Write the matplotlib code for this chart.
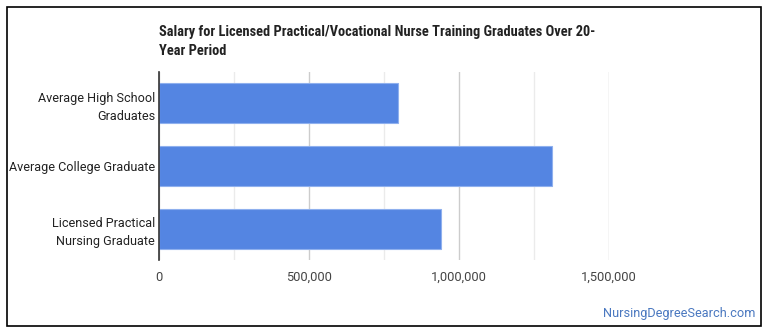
import matplotlib
matplotlib.use("Agg")
import matplotlib.pyplot as plt
from matplotlib.ticker import FuncFormatter, MultipleLocator
from matplotlib.patches import Rectangle

categories = ["Average High School\nGraduates", "Average College Graduate", "Licensed Practical\nNursing Graduate"]
values = [796000, 1312000, 941000]
xticks = [0, 500000, 1000000, 1500000]
title = "Salary for Licensed Practical/Vocational Nurse Training Graduates Over 20-\nYear Period"
watermark = "NursingDegreeSearch.com"

plt.rcParams['font.family'] = ['Roboto', 'DejaVu Sans']

W, H = 770, 335
fig = plt.figure(figsize=(W/100, H/100), dpi=100)
fig.patch.set_facecolor('white')

# outer frame
fig.add_artist(Rectangle((7/W, 1 - 326/H), (761-7)/W, (326-7)/H, transform=fig.transFigure,
                         fill=False, edgecolor='black', linewidth=1.2))

left, right = 159.3, 608.5
top, bottom = 72, 260
ax = fig.add_axes([left/W, 1 - bottom/H, (right-left)/W, (bottom-top)/H])

y = list(range(len(categories)))
ax.barh(y, values, height=0.64, color='#5485E2', edgecolor='#8fb0ee', linewidth=0.8, zorder=3)
ax.set_ylim(2.5, -0.5)
ax.set_xlim(0, 1500000)

ax.xaxis.set_major_locator(MultipleLocator(500000))
ax.xaxis.set_minor_locator(MultipleLocator(250000))
ax.set_xticks(xticks)
ax.xaxis.set_major_formatter(FuncFormatter(lambda v, p: f"{int(v):,}"))
ax.grid(axis='x', which='major', color='#cccccc', linewidth=1, zorder=0)
ax.grid(axis='x', which='minor', color='#ebebeb', linewidth=1, zorder=0)
ax.set_yticks(y)
ax.set_yticklabels(categories, fontsize=9.1, color='#222222', linespacing=1.5)
ax.tick_params(axis='both', which='both', length=0)
ax.tick_params(axis='y', pad=3)
ax.tick_params(axis='x', pad=8, labelsize=9.3, labelcolor='#444444')
for s in ['top', 'right', 'bottom']:
    ax.spines[s].set_visible(False)
ax.spines['left'].set_color('#333333')
ax.spines['left'].set_linewidth(1.2)
ax.spines['left'].set_zorder(4)

fig.text(159/W, 1 - 25/H, title, fontsize=10.35, fontweight='bold', color='#222222',
         va='top', ha='left', linespacing=1.45, family=['Roboto Condensed', 'Liberation Sans Narrow', 'Roboto'])
fig.text(755/W, 1 - 313/H, watermark, fontsize=9.2, color='#4a78c0', ha='right', va='center')

fig.savefig("out.png", dpi=100, facecolor='white')
